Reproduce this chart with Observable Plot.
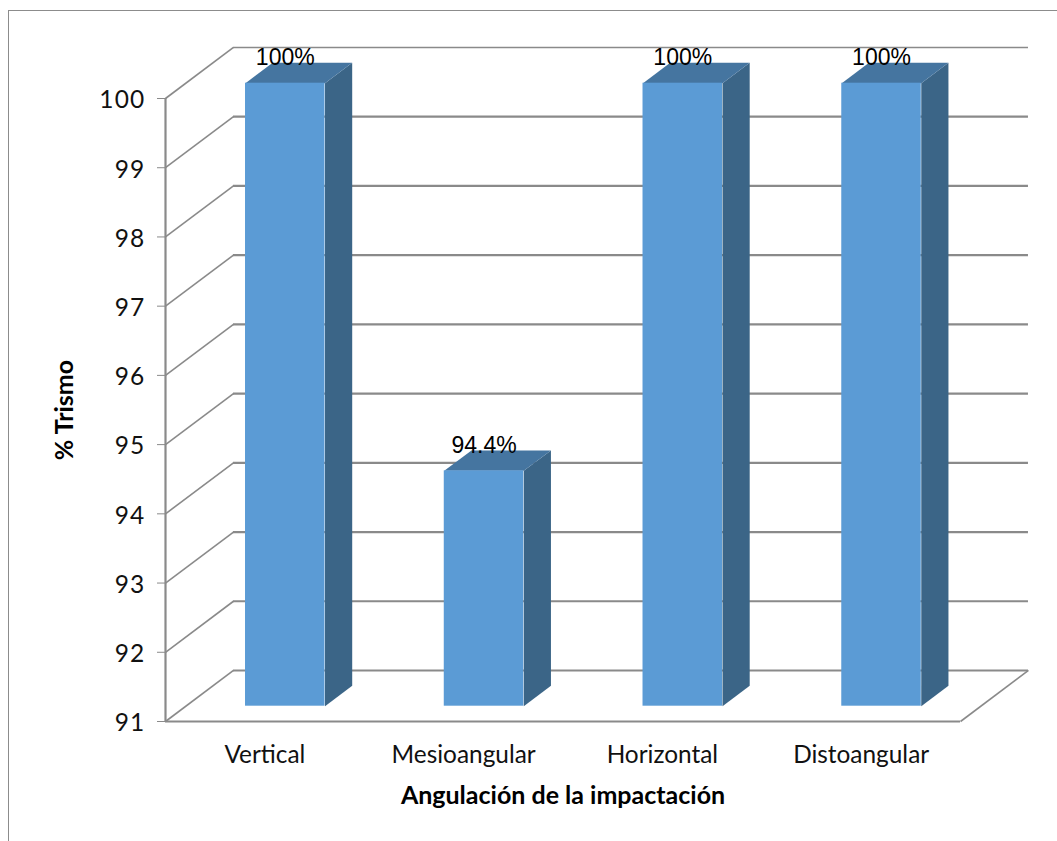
<!DOCTYPE html>
<html lang="es">
<head>
<meta charset="utf-8">
<style>
  html, body { margin: 0; padding: 0; background: #fff; overflow: hidden; }
  #sheet { position: relative; width: 1057px; height: 841px; overflow: hidden; }
  #sheet svg { position: absolute; left: 0; top: 0; background: transparent; }
  #border { position: absolute; left: 8px; top: 10px; width: 1200px; height: 1000px; border: 1.5px solid #8c8c8c; }
  [aria-label="y-axis tick label"] { letter-spacing: 1.2px; }
</style>
<script src="https://cdn.jsdelivr.net/npm/d3@7"></script>
<script src="https://cdn.jsdelivr.net/npm/@observablehq/plot@0.6"></script>
</head>
<body>
<div id="sheet"><div id="border"></div></div>
<script>
const categories = ["Vertical", "Mesioangular", "Horizontal", "Distoangular"];
const trismo = [100, 94.4, 100, 100];
const labels = ["100%", "94.4%", "100%", "100%"];
const yTicks = [91, 92, 93, 94, 95, 96, 97, 98, 99, 100];

// Oblique projection of the 3D chart box, in data units of the x and y scales.
const depthX = 0.342;
const depthY = 0.737;
const barWidth = 0.4;    // gap width of 150%
const barDepth = 0.4;    // fraction of the box depth taken by a bar
const barStart = 0.3;    // depth at which a bar's front face sits

const GRID = "#8a8a8a";
const baseline = yTicks[0];
const at = (i, v, t) => ({x: i + t * depthX, y: v + t * depthY});

const bars = trismo.map((value, i) => {
  const left = i + 0.5 - barWidth / 2, right = i + 0.5 + barWidth / 2;
  return {i, value, left, right};
});
const poly = (fn) => bars.flatMap((b) => fn(b).map((p) => ({...p, i: b.i})));

const sideFaces = poly((b) => [
  at(b.right, b.value, barStart),
  at(b.right, b.value, barStart + barDepth),
  at(b.right, baseline, barStart + barDepth),
  at(b.right, baseline, barStart)
]);
const topFaces = poly((b) => [
  at(b.left, b.value, barStart),
  at(b.right, b.value, barStart),
  at(b.right, b.value, barStart + barDepth),
  at(b.left, b.value, barStart + barDepth)
]);

const chart = Plot.plot({
  width: 1057,
  height: 841,
  marginLeft: 165,
  marginRight: 97,
  marginTop: 98,
  marginBottom: 120,
  style: {background: "transparent"},
  x: {type: "linear", domain: [0, 4]},
  y: {domain: [91, 100]},
  marks: [
    // back wall gridlines
    Plot.ruleY(yTicks.slice(0, -1), {y: (d) => d + depthY, x1: depthX, x2: 4 + depthX, stroke: GRID, strokeWidth: 2.2}),
    Plot.ruleY([100], {y: (d) => d + depthY, x1: depthX, x2: 4 + depthX, stroke: GRID, strokeWidth: 1.4}),
    // side wall gridlines
    Plot.link(yTicks, {x1: 0, y1: (d) => d, x2: depthX, y2: (d) => d + depthY, stroke: GRID, strokeWidth: 1.6}),
    // floor outline
    Plot.link([0], {x1: 4, y1: baseline, x2: 4 + depthX, y2: baseline + depthY, stroke: GRID, strokeWidth: 1.6}),
    Plot.ruleY([baseline], {x1: 0, x2: 4, stroke: GRID, strokeWidth: 2.2}),
    Plot.ruleX([0], {y1: 91, y2: 100, stroke: GRID, strokeWidth: 2.2}),
    // bars: side, top and front faces
    Plot.line(sideFaces, {x: "x", y: "y", z: "i", fill: "#3b6587", stroke: "none"}),
    Plot.line(topFaces, {x: "x", y: "y", z: "i", fill: "#4575a0", stroke: "none"}),
    Plot.rect(bars, {
      x1: (b) => at(b.left, b.value, barStart).x,
      x2: (b) => at(b.right, b.value, barStart).x,
      y1: () => at(0, baseline, barStart).y,
      y2: (b) => at(0, b.value, barStart).y,
      fill: "#5b9bd5"
    }),
    // value labels
    Plot.text(bars, {
      x: (b) => at(b.i + 0.5, b.value, barStart).x,
      y: (b) => at(0, b.value, barStart).y,
      text: (b) => labels[b.i],
      lineAnchor: "bottom",
      dy: -18,
      fontFamily: "Liberation Sans",
      fontSize: 23,
      fill: "#000"
    }),
    // axes: tick marks and tick labels are separate so the labels can sit slightly lower
    Plot.axisY({
      ticks: yTicks,
      tickSize: 8,
      tickFormat: () => "",
      stroke: GRID,
      label: null
    }),
    Plot.axisY({
      ticks: yTicks,
      tickSize: 0,
      tickPadding: 20,
      dy: 2,
      fill: "#111",
      label: null,
      fontFamily: "Lato",
      fontSize: 24.5
    }),
    Plot.axisX({
      ticks: categories.map((_, i) => i + 0.5),
      tickFormat: (d) => categories[Math.floor(d)],
      tickSize: 0,
      tickPadding: 24,
      fill: "#111",
      label: null,
      fontFamily: "Lato",
      fontSize: 24.4
    }),
    // axis titles
    Plot.text(["% Trismo"], {
      frameAnchor: "left",
      textAnchor: "middle",
      y: 95.5,
      dx: -101,
      rotate: -90,
      fontFamily: "Lato",
      fontWeight: "bold",
      fontSize: 25,
      fill: "#000"
    }),
    Plot.text(["Angulación de la impactación"], {
      x: 2,
      frameAnchor: "bottom",
      dy: 82,
      fontFamily: "Lato",
      fontWeight: "bold",
      fontSize: 25,
      fill: "#000"
    })
  ]
});
document.getElementById("sheet").appendChild(chart);
</script>
</body>
</html>
